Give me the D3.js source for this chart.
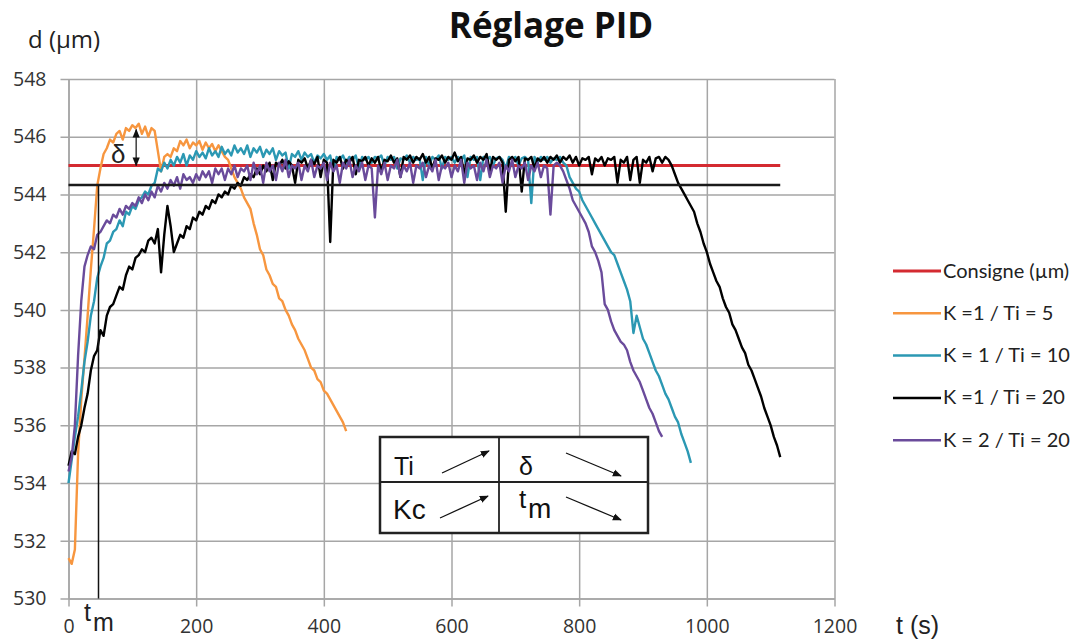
<!DOCTYPE html>
<html><head><meta charset="utf-8">
<script src="https://cdn.jsdelivr.net/npm/d3@7"></script>
<style>body{margin:0;background:#fff}svg{display:block}</style>
</head><body><svg id="c" width="1084" height="641"></svg>
<script>
const chartTitle = "Réglage PID";
const yTitle = "d (µm)";
const xTitle = "t (s)";
const xTicks = [0,200,400,600,800,1000,1200];
const yTicks = [530,532,534,536,538,540,542,544,546,548];
const step = 5;           // sampling period of the series (s)
const consigne = 545;     // set point (µm)
const refLevel = 544.33;  // black reference level
const refEnd = 1115;      // end of reference lines (s)
const tmTime = 47;        // t_m marker (s)
const deltaTime = 106;    // overshoot marker (s)
const deltaTop = 546.25;

const orange = [531.4,531.2,531.7,535.0,536.9,538.3,539.8,541.4,542.8,544.3,544.9,545.4,545.6,545.9,545.8,546.1,546.2,545.9,546.3,546.2,
546.4,546.3,546.45,546.1,546.35,546.0,546.3,546.2,545.5,544.8,545.3,545.4,545.3,545.6,545.5,545.85,545.7,545.9,545.6,545.8,
545.7,545.85,545.55,545.8,545.6,545.75,545.5,545.7,545.5,545.3,545.2,544.9,544.6,544.4,544.2,543.9,543.7,543.5,543.0,542.6,
542.1,541.9,541.4,541.2,540.9,540.8,540.4,540.3,540.0,539.8,539.5,539.3,539.0,538.8,538.6,538.3,538.0,537.9,537.6,537.5,
537.2,537.1,536.9,536.7,536.5,536.3,536.1,535.8];

const teal = [534.0,534.8,535.6,536.3,537.2,538.2,538.9,539.8,540.3,541.1,541.5,541.8,542.3,542.4,542.7,542.8,543.1,542.9,543.4,543.3,
543.6,543.5,543.8,543.9,544.1,544.0,544.3,544.4,544.9,544.8,545.1,544.9,545.2,545.0,545.3,545.1,545.4,545.0,545.35,545.2,
545.5,545.3,545.45,545.25,545.6,545.35,545.5,545.3,545.65,545.4,545.55,545.35,545.7,545.45,545.6,545.4,545.7,545.3,545.6,545.45,
545.65,545.3,545.55,545.4,545.6,545.2,545.5,545.35,545.45,544.9,545.4,545.3,545.5,545.2,545.45,545.3,545.4,545.1,545.35,545.25,
545.4,545.2,545.35,544.8,545.3,545.2,545.35,545.1,545.3,545.2,545.35,544.9,545.3,545.2,545.3,545.1,545.3,545.25,545.35,545.0,
545.3,545.2,545.3,544.9,545.25,545.2,545.35,545.1,545.3,545.2,545.25,544.5,545.3,545.0,545.3,545.2,545.35,544.9,545.3,545.2,
545.3,545.1,545.3,545.2,545.35,544.6,545.3,545.2,545.3,544.5,545.3,545.2,545.3,545.0,545.25,545.3,545.2,544.9,545.3,545.2,
545.3,545.0,545.25,545.3,545.2,543.7,545.3,545.1,545.3,545.2,545.3,545.1,545.25,545.2,545.3,545.1,545.0,544.6,544.4,544.2,
544.1,543.8,543.6,543.4,543.2,543.0,542.8,542.6,542.4,542.2,542.0,541.9,541.6,541.3,541.0,540.7,540.3,539.2,539.8,539.4,
539.0,538.8,538.5,538.2,537.9,537.7,537.4,537.1,536.9,536.6,536.3,536.1,535.7,535.4,535.1,534.7];

const black = [534.6,535.1,535.0,535.6,536.0,536.6,537.1,537.9,538.4,538.6,539.3,539.1,539.8,540.1,540.2,540.5,540.8,540.7,541.2,541.5,
541.4,541.8,541.9,542.1,542.0,542.4,542.5,542.3,542.8,541.3,542.6,543.6,542.9,542.0,542.3,542.6,542.5,542.9,542.8,543.2,
543.1,543.4,543.3,543.6,543.5,543.8,543.7,544.0,543.9,544.1,544.0,544.3,544.2,544.4,544.3,544.6,544.5,544.7,544.6,544.9,
544.7,545.0,544.8,545.1,544.5,545.1,545.0,545.2,544.9,545.15,545.0,544.4,545.2,545.1,545.25,544.9,545.2,545.05,545.3,544.6,
545.2,545.1,542.35,545.2,545.1,545.3,544.9,545.2,545.1,545.3,544.7,545.2,545.15,545.3,545.0,545.25,545.1,545.3,544.8,545.2,
545.15,545.35,545.1,545.25,544.6,545.3,545.2,545.35,545.1,545.3,545.2,545.4,545.1,545.3,544.9,545.25,545.2,545.35,545.1,545.3,
545.2,545.45,545.15,545.3,544.7,545.25,545.2,545.35,545.1,545.3,545.2,545.4,544.8,545.3,545.2,545.3,545.1,543.4,545.2,545.3,
545.15,545.3,544.1,545.25,545.2,545.3,544.9,545.25,545.15,545.3,545.1,545.3,545.2,545.35,545.1,545.3,545.2,545.35,545.1,545.3,
545.0,545.25,545.2,545.3,544.7,545.25,545.15,545.3,545.0,545.25,545.2,545.3,544.4,545.2,545.1,545.3,544.5,545.2,545.3,544.4,
545.2,545.1,545.3,544.8,545.25,545.3,545.1,545.3,545.2,545.0,544.7,544.4,544.2,544.0,543.8,543.6,543.4,543.0,542.7,542.3,
542.0,541.6,541.3,541.0,540.8,540.4,540.1,539.9,539.5,539.3,539.0,538.7,538.5,538.1,537.9,537.6,537.3,537.0,536.6,536.3,
536.0,535.6,535.3,534.9];

const purple = [534.4,534.9,536.0,538.4,540.3,541.5,541.9,542.2,542.1,542.6,542.7,542.9,543.1,543.0,543.3,543.2,543.5,543.3,543.6,543.5,
543.7,543.6,543.9,543.7,544.0,543.8,544.1,543.9,544.3,544.1,544.4,544.2,544.5,544.3,544.6,544.2,544.7,544.5,544.6,544.4,
544.7,544.5,544.8,544.6,544.8,544.4,544.9,544.7,544.9,544.5,544.9,544.7,545.0,544.6,544.9,544.8,545.0,544.5,545.1,544.7,
545.0,544.4,545.1,544.8,545.0,544.5,545.1,544.8,545.2,544.6,545.0,544.9,545.1,544.5,545.0,544.8,545.2,544.6,545.0,544.9,
545.1,544.5,545.1,544.8,545.0,544.4,545.1,544.9,545.2,544.6,545.0,544.8,545.1,544.5,545.0,544.9,543.2,545.0,544.7,545.1,
544.5,545.0,544.9,545.2,544.6,545.0,544.8,545.1,544.4,545.0,544.9,545.1,544.6,545.0,544.8,545.2,544.5,545.0,544.9,545.1,
544.6,545.0,544.8,545.2,544.4,545.1,544.9,545.0,544.5,545.1,544.8,545.2,544.6,545.0,544.9,545.1,544.4,545.0,544.8,545.2,
544.6,545.0,544.9,545.1,544.5,545.0,544.8,545.1,544.6,545.0,544.9,543.3,545.0,545.1,545.0,544.8,544.5,544.2,543.8,543.6,
543.4,543.2,543.0,542.7,542.2,542.0,541.7,541.3,540.2,540.0,539.6,539.3,539.1,538.9,538.8,538.6,538.2,537.9,537.7,537.5,
537.2,536.9,536.6,536.4,536.1,535.8,535.6];

const legendNames = ["Consigne (µm)","K =1 / Ti = 5","K = 1 / Ti = 10","K =1 / Ti = 20","K = 2 / Ti = 20"];
const colors = ["#d42a31","#f7963f","#2b98b3","#000000","#6a4b9b"];

const svg = d3.select("#c");
svg.append("rect").attr("width",1084).attr("height",641).attr("fill","#fff");

const x = d3.scaleLinear().domain([0,1200]).range([68.5,834.5]);
const y = d3.scaleLinear().domain([530,548]).range([598.5,79]);
const gridColor = "#a6a6a6";

// x grid + axis
const gx = svg.append("g").attr("transform",`translate(0,${y(530)})`)
  .call(d3.axisBottom(x).tickValues(xTicks).tickSize(8).tickSizeOuter(0).tickFormat(d3.format("d")));
gx.select(".domain").attr("stroke",gridColor).attr("stroke-width",1.5);
gx.selectAll(".tick line").attr("y1",y(548)-y(530)).attr("stroke",gridColor).attr("stroke-width",1.5);
gx.selectAll(".tick text").attr("y",21).attr("font-family","Open Sans").attr("font-size",19.5).attr("fill","#333");

// y grid + axis
const gy = svg.append("g").attr("transform",`translate(${x(0)},0)`)
  .call(d3.axisLeft(y).tickValues(yTicks).tickSize(8).tickSizeOuter(0).tickFormat(d3.format("d")));
gy.select(".domain").attr("stroke",gridColor).attr("stroke-width",1.5);
gy.selectAll(".tick line").attr("x1",x(1200)-x(0)).attr("stroke",gridColor).attr("stroke-width",1.5);
gy.selectAll(".tick text").attr("x",-22).attr("font-family","Open Sans").attr("font-size",19.5).attr("fill","#333");

// titles
svg.append("text").attr("x",551).attr("y",38).attr("text-anchor","middle")
  .attr("font-family","Open Sans").attr("font-weight","bold").attr("font-size",35).attr("fill","#111").text(chartTitle);
svg.append("text").attr("x",28).attr("y",48).attr("font-family","Open Sans").attr("font-size",24).attr("fill","#222").text(yTitle);
svg.append("text").attr("x",896).attr("y",634).attr("font-family","Liberation Sans").attr("font-size",25).attr("fill","#222").text(xTitle);

// reference consigne
const plot = svg.append("g");
plot.append("line").attr("x1",x(0)).attr("x2",x(refEnd)).attr("y1",y(consigne)).attr("y2",y(consigne))
  .attr("stroke",colors[0]).attr("stroke-width",3);

const line = d3.line().x((d,i)=>x(i*step)).y(d=>y(d));
[orange,teal,black,purple].forEach((s,k)=>{
  plot.append("path").datum(s).attr("d",line).attr("fill","none")
    .attr("stroke",colors[k+1]).attr("stroke-width",2.4).attr("stroke-linejoin","round");
});

// black reference level and t_m
plot.append("line").attr("x1",x(0)).attr("x2",x(refEnd)).attr("y1",y(refLevel)).attr("y2",y(refLevel))
  .attr("stroke","#1a1a1a").attr("stroke-width",2.5);
plot.append("line").attr("x1",x(tmTime)).attr("x2",x(tmTime)).attr("y1",y(refLevel)).attr("y2",y(530))
  .attr("stroke","#111").attr("stroke-width",1.5);

// markers
const defs = svg.append("defs");
defs.append("marker").attr("id","ah").attr("viewBox","0 0 10 10").attr("refX",9).attr("refY",5)
  .attr("markerWidth",9).attr("markerHeight",9).attr("markerUnits","userSpaceOnUse").attr("orient","auto-start-reverse")
  .append("path").attr("d","M0,1 L10,5 L0,9 z").attr("fill","#111");

// delta arrow
plot.append("line").attr("x1",x(deltaTime)).attr("x2",x(deltaTime)).attr("y1",y(deltaTop)).attr("y2",y(consigne))
  .attr("stroke","#222").attr("stroke-width",1.3).attr("marker-start","url(#ah)").attr("marker-end","url(#ah)");
svg.append("text").attr("x",111).attr("y",163).attr("font-family","Liberation Sans").attr("font-size",26).attr("fill","#222").text("δ");

// t_m label
svg.append("text").attr("x",84).attr("y",621).attr("font-family","Liberation Sans").attr("font-size",25).attr("fill","#222").text("t");
svg.append("text").attr("x",93).attr("y",631).attr("font-family","Liberation Sans").attr("font-size",25).attr("fill","#222").text("m");

// legend
const lg = svg.append("g");
legendNames.forEach((n,i)=>{
  const yy = 271 + i*42.3;
  lg.append("line").attr("x1",893).attr("x2",941).attr("y1",yy).attr("y2",yy).attr("stroke",colors[i]).attr("stroke-width",i===0?3:2.5);
  lg.append("text").attr("x",943).attr("y",yy+6.5).attr("font-family","Lato").attr("font-size",20).attr("fill","#222").text(n);
});

// inset table
const tb = svg.append("g");
tb.append("rect").attr("x",380).attr("y",437).attr("width",268).attr("height",96).attr("fill","#fff").attr("stroke","#222").attr("stroke-width",2.5);
tb.append("line").attr("x1",499).attr("x2",499).attr("y1",437).attr("y2",533).attr("stroke","#222").attr("stroke-width",1.8);
tb.append("line").attr("x1",380).attr("x2",648).attr("y1",482).attr("y2",482).attr("stroke","#222").attr("stroke-width",1.8);
const tf = "Liberation Sans";
tb.append("text").attr("x",394).attr("y",475).attr("font-family",tf).attr("font-size",25).attr("fill","#111").text("Ti");
tb.append("text").attr("x",519).attr("y",475).attr("font-family",tf).attr("font-size",25).attr("fill","#111").text("δ");
tb.append("text").attr("x",393).attr("y",519).attr("font-family",tf).attr("font-size",28).attr("fill","#111").text("Kc");
tb.append("text").attr("x",519).attr("y",508).attr("font-family",tf).attr("font-size",26).attr("fill","#111").text("t");
tb.append("text").attr("x",528).attr("y",518).attr("font-family",tf).attr("font-size",28).attr("fill","#111").text("m");
const arrows = [[442,473,489,451],[566,453,621,476],[440,518,488,496],[566,497,621,520]];
tb.selectAll("line.ar").data(arrows).enter().append("line").attr("class","ar")
  .attr("x1",d=>d[0]).attr("y1",d=>d[1]).attr("x2",d=>d[2]).attr("y2",d=>d[3])
  .attr("stroke","#111").attr("stroke-width",1.3).attr("marker-end","url(#ah)");
</script></body></html>
